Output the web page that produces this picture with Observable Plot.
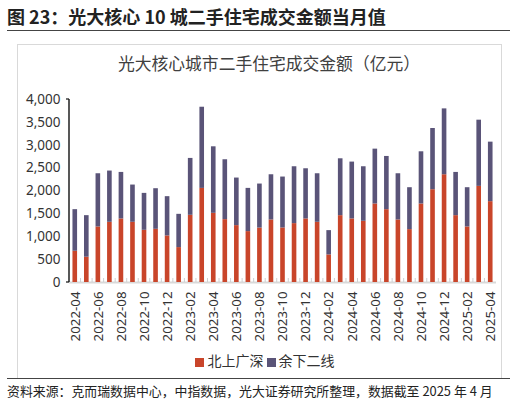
<!DOCTYPE html>
<html><head><meta charset="utf-8">
<script src="https://cdn.jsdelivr.net/npm/d3@7"></script>
<script src="https://cdn.jsdelivr.net/npm/@observablehq/plot@0.6"></script>
<style>
body{margin:0;width:516px;height:400px;background:#fff;position:relative;overflow:hidden;font-family:"Noto Sans CJK SC","Noto Sans",sans-serif;}
.abs{position:absolute;}
#title{left:7px;top:3px;font-size:18px;font-weight:bold;color:#222;white-space:nowrap;}
#rule1{left:7px;top:30px;width:503px;height:0;border-top:1.5px solid #444;}
#box{left:17px;top:44px;width:483px;height:334px;border-left:1px solid #d9d9d9;border-top:1px solid #d9d9d9;border-right:1px solid #d9d9d9;}
#ctitle{left:17px;width:504px;top:51px;text-align:center;font-size:16.8px;color:#404040;white-space:nowrap;}
#chart{left:0;top:80px;}
#legend{left:0;width:530px;top:350px;text-align:center;font-size:14px;color:#333;white-space:nowrap;}
#legend span.sw{display:inline-block;width:9px;height:9px;margin-right:3px;vertical-align:-1px;}
#rule2{left:7px;top:378px;width:503px;height:0;border-top:1.5px solid #444;}
#foot{left:7px;top:381px;font-size:12.9px;color:#222;white-space:nowrap;}
</style></head>
<body>
<div id="title" class="abs">图 23：光大核心 10 城二手住宅成交金额当月值</div>
<div id="rule1" class="abs"></div>
<div id="box" class="abs"></div>
<div id="ctitle" class="abs">光大核心城市二手住宅成交金额（亿元）</div>
<div id="chart" class="abs"></div>
<div id="legend" class="abs"></div>
<div id="rule2" class="abs"></div>
<div id="foot" class="abs">资料来源：克而瑞数据中心，中指数据，光大证券研究所整理，数据截至 2025 年 4 月</div>
<script>
const months = ["2022-04","2022-05","2022-06","2022-07","2022-08","2022-09","2022-10","2022-11","2022-12",
"2023-01","2023-02","2023-03","2023-04","2023-05","2023-06","2023-07","2023-08","2023-09","2023-10","2023-11","2023-12",
"2024-01","2024-02","2024-03","2024-04","2024-05","2024-06","2024-07","2024-08","2024-09","2024-10","2024-11","2024-12",
"2025-01","2025-02","2025-03","2025-04"];
const tier1 = [683,553,1214,1316,1389,1316,1141,1163,1018,763,1469,2057,1512,1374,1243,1112,1190,1367,1192,1287,1389,1316,603,1461,1389,1338,1716,1592,1367,1156,1716,2028,2355,1461,1214,2101,1767];
const others = [909,908,1163,1120,1017,814,807,887,858,727,1243,1774,1454,1309,1040,945,962,988,1113,1243,1097,1061,531,1243,1243,1192,1199,1163,1010,916,1141,1338,1440,945,858,1447,1301];
const seriesNames = ["北上广深","余下二线"];
const colors = ["#C9452A","#5A5478"];
const yTicks = [0,500,1000,1500,2000,2500,3000,3500,4000];
const xTicks = months.filter((d,i)=>i%2===0);

const data = [];
months.forEach((m,i)=>{
  data.push({month:m, series:seriesNames[0], value:tier1[i]});
  data.push({month:m, series:seriesNames[1], value:others[i]});
});

const chart = Plot.plot({
  width:516, height:280,
  marginLeft:69, marginRight:20, marginTop:19, marginBottom:78,
  style:{fontFamily:"'Noto Sans','DejaVu Sans',sans-serif", fontSize:"12.5px", color:"#333", background:"transparent", overflow:"visible"},
  x:{domain:months, paddingInner:0.6, paddingOuter:0.3, round:false, label:null},
  y:{domain:[0,4000], label:null},
  color:{domain:seriesNames, range:colors},
  marks:[
    Plot.ruleY([0], {stroke:"#d9d9d9", strokeWidth:2}),
    Plot.barY(data, {x:"month", y:"value", fill:"series", order:seriesNames}),
    Plot.axisY({ticks:yTicks, tickFormat:d3.format(","), tickSize:0, tickPadding:9, fontSize:13.5}),
    Plot.axisX({ticks:xTicks, tickRotate:-90, tickSize:0, tickPadding:9, fontSize:13.3})
  ]
});
document.getElementById("chart").appendChild(chart);

// axis line and between-bar ticks, placed through the plot's own scales
const xs = chart.scale("x"), ys = chart.scale("y");
const svg = d3.select(chart);
const step = xs.step, x0 = xs.apply(months[0]) - xs.paddingOuter * step;
const yTop = ys.apply(4000), yBot = ys.apply(0);
const g = svg.append("g");
months.forEach((m,i)=>{
  const xb = xs.apply(m) + xs.bandwidth + (step - xs.bandwidth)/2;
  if (i < months.length - 1) g.append("line").attr("x1",xb).attr("x2",xb).attr("y1",yBot).attr("y2",yBot-4).attr("stroke","#cfcfcf");
});
g.append("line").attr("x1",x0).attr("x2",x0).attr("y1",yTop).attr("y2",yBot).attr("stroke","#111").attr("stroke-width",1.4);
[yTop,yBot].forEach(y=>g.append("line").attr("x1",x0-3).attr("x2",x0).attr("y1",y).attr("y2",y).attr("stroke","#111").attr("stroke-width",1.2));

const lg = document.getElementById("legend");
lg.innerHTML = seriesNames.map((s,i)=>`<span class="sw" style="background:${colors[i]}"></span>${s}`).join(" ");
</script>
</body></html>
